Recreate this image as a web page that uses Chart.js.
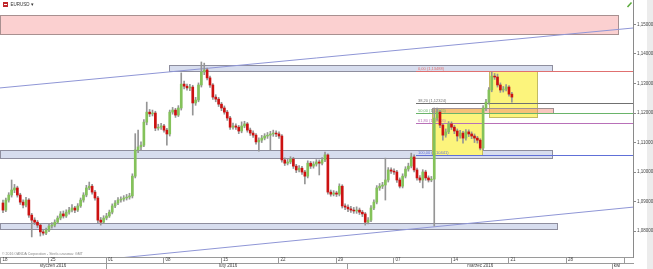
<!DOCTYPE html>
<html>
<head>
<meta charset="utf-8">
<script src="https://cdn.jsdelivr.net/npm/chart.js@4"></script>
<style>
  html, body { margin: 0; padding: 0; background: #fff; }
  #wrap { position: relative; width: 653px; height: 269px; }
</style>
</head>
<body>
<div id="wrap"><canvas id="chart" width="653" height="269"></canvas></div>
<script>
// EURUSD, H6 candles, 18.01 - 21.03.2016 (x = candle number)
const opens = [
  1.0895,1.0871,1.0905,1.0922,1.0939,1.0946,1.0922,1.0898,1.0888,1.0905,
  1.0854,1.0837,1.0830,1.0820,1.0797,1.0793,1.0803,1.0817,1.0820,1.0830,
  1.0844,1.0858,1.0851,1.0864,1.0871,1.0878,1.0871,1.0885,1.0905,1.0922,
  1.0946,1.0952,1.0932,1.0912,1.0837,1.0830,1.0844,1.0851,1.0864,1.0885,
  1.0895,1.0905,1.0908,1.0912,1.0915,1.0919,1.0986,1.1075,1.1085,1.1091,
  1.1169,1.1203,1.1197,1.1200,1.1149,1.1152,1.1156,1.1142,1.1129,1.1203,
  1.1210,1.1193,1.1217,1.1298,1.1291,1.1285,1.1288,1.1234,1.1244,1.1295,
  1.1339,1.1346,1.1319,1.1295,1.1254,1.1247,1.1230,1.1217,1.1203,1.1183,
  1.1152,1.1156,1.1152,1.1139,1.1156,1.1163,1.1142,1.1132,1.1125,1.1102,
  1.1108,1.1115,1.1122,1.1125,1.1129,1.1132,1.1129,1.1122,1.1041,1.1030,
  1.1034,1.1044,1.1020,1.1007,1.1013,1.1000,1.0986,1.1030,1.1020,1.1027,
  1.1034,1.1030,1.1041,1.1058,1.0932,1.0925,1.0929,1.0925,1.0952,1.0885,
  1.0881,1.0875,1.0871,1.0868,1.0871,1.0864,1.0858,1.0830,1.0837,1.0878,
  1.0898,1.0946,1.0952,1.0956,1.0973,1.1007,1.1003,1.1000,1.0973,1.0952,
  1.0986,1.1010,1.1020,1.1051,1.1007,1.0980,1.0973,1.1000,1.0980,1.0973,
  1.0976,1.1183,1.1203,1.1159,1.1125,1.1136,1.1163,1.1152,1.1139,1.1122,
  1.1132,1.1115,1.1136,1.1129,1.1122,1.1115,1.1108,1.1081,1.1217,1.1237,
  1.1278,1.1325,1.1322,1.1295,1.1278,1.1281,1.1288,1.1264
];
const highs = [
  1.0905,1.0912,1.0930,1.0973,1.0958,1.0952,1.0928,1.0906,1.0914,1.0910,
  1.0860,1.0845,1.0836,1.0826,1.0804,1.0810,1.0824,1.0829,1.0838,1.0851,
  1.0866,1.0868,1.0872,1.0880,1.0890,1.0884,1.0893,1.0912,1.0930,1.0955,
  1.0966,1.0958,1.0938,1.0918,1.0846,1.0852,1.0860,1.0871,1.0892,1.0903,
  1.0913,1.0916,1.0920,1.0924,1.0928,1.0994,1.1130,1.1142,1.1102,1.1178,
  1.1237,1.1212,1.1210,1.1206,1.1162,1.1165,1.1162,1.1148,1.1210,1.1219,
  1.1216,1.1225,1.1336,1.1308,1.1298,1.1297,1.1294,1.1253,1.1302,1.1373,
  1.1369,1.1352,1.1325,1.1300,1.1262,1.1253,1.1236,1.1224,1.1209,1.1189,
  1.1166,1.1163,1.1158,1.1170,1.1172,1.1168,1.1149,1.1140,1.1130,1.1116,
  1.1124,1.1130,1.1134,1.1138,1.1142,1.1140,1.1136,1.1127,1.1048,1.1043,
  1.1052,1.1050,1.1026,1.1022,1.1019,1.1006,1.1038,1.1036,1.1035,1.1042,
  1.1041,1.1049,1.1068,1.1062,1.0939,1.0937,1.0935,1.0960,1.0957,1.0892,
  1.0889,1.0884,1.0880,1.0882,1.0878,1.0870,1.0863,1.0846,1.0886,1.0906,
  1.0954,1.0961,1.0965,1.1047,1.1015,1.1014,1.1011,1.1006,1.0980,1.0994,
  1.1018,1.1030,1.1064,1.1058,1.1013,1.0988,1.1008,1.1006,1.0987,1.0985,
  1.1217,1.1217,1.1209,1.1165,1.1146,1.1171,1.1170,1.1158,1.1146,1.1141,
  1.1138,1.1144,1.1143,1.1136,1.1129,1.1121,1.1113,1.1225,1.1246,1.1286,
  1.1339,1.1334,1.1332,1.1302,1.1290,1.1296,1.1293,1.1270
];
const lows = [
  1.0862,1.0866,1.0898,1.0915,1.0930,1.0915,1.0890,1.0878,1.0882,1.0846,
  1.0780,1.0822,1.0812,1.0783,1.0786,1.0788,1.0798,1.0810,1.0814,1.0825,
  1.0838,1.0844,1.0846,1.0857,1.0865,1.0862,1.0866,1.0880,1.0898,1.0916,
  1.0940,1.0925,1.0905,1.0828,1.0820,1.0825,1.0838,1.0846,1.0858,1.0879,
  1.0889,1.0898,1.0901,1.0905,1.0908,1.0912,1.0980,1.1066,1.1074,1.1086,
  1.1160,1.1188,1.1190,1.1140,1.1142,1.1144,1.1135,1.1091,1.1122,1.1196,
  1.1185,1.1188,1.1210,1.1282,1.1277,1.1276,1.1193,1.1226,1.1238,1.1288,
  1.1330,1.1312,1.1287,1.1246,1.1238,1.1222,1.1208,1.1196,1.1175,1.1144,
  1.1145,1.1144,1.1130,1.1133,1.1150,1.1135,1.1124,1.1117,1.1094,1.1071,
  1.1100,1.1109,1.1114,1.1075,1.1121,1.1120,1.1114,1.1033,1.1022,1.1024,
  1.1028,1.1012,1.0998,1.1000,1.0992,1.0960,1.0980,1.1012,1.1013,1.1020,
  1.0990,1.1024,1.1035,1.0925,1.0918,1.0919,1.0917,1.0919,1.0878,1.0872,
  1.0866,1.0863,1.0860,1.0860,1.0856,1.0849,1.0820,1.0824,1.0832,1.0872,
  1.0892,1.0938,1.0944,1.0905,1.0966,1.0995,1.0992,1.0965,1.0946,1.0946,
  1.0980,1.1003,1.1014,1.1000,1.0972,1.0965,1.0946,1.0972,1.0966,1.0967,
  1.0817,1.1175,1.1150,1.1108,1.1118,1.1130,1.1144,1.1130,1.1105,1.1115,
  1.1098,1.1108,1.1120,1.1113,1.1100,1.1098,1.1075,1.1076,1.1208,1.1230,
  1.1272,1.1314,1.1288,1.1270,1.1271,1.1275,1.1257,1.1237
];
const closes = [
  1.0871,1.0905,1.0922,1.0939,1.0946,1.0922,1.0898,1.0888,1.0905,1.0854,
  1.0837,1.0830,1.0820,1.0797,1.0793,1.0803,1.0817,1.0820,1.0830,1.0844,
  1.0858,1.0851,1.0864,1.0871,1.0878,1.0871,1.0885,1.0905,1.0922,1.0946,
  1.0952,1.0932,1.0912,1.0837,1.0830,1.0844,1.0851,1.0864,1.0885,1.0895,
  1.0905,1.0908,1.0912,1.0915,1.0919,1.0986,1.1075,1.1085,1.1091,1.1169,
  1.1203,1.1197,1.1200,1.1149,1.1152,1.1156,1.1142,1.1129,1.1203,1.1210,
  1.1193,1.1217,1.1298,1.1291,1.1285,1.1288,1.1234,1.1244,1.1295,1.1339,
  1.1346,1.1319,1.1295,1.1254,1.1247,1.1230,1.1217,1.1203,1.1183,1.1152,
  1.1156,1.1152,1.1139,1.1156,1.1163,1.1142,1.1132,1.1125,1.1102,1.1108,
  1.1115,1.1122,1.1125,1.1129,1.1132,1.1129,1.1122,1.1041,1.1030,1.1034,
  1.1044,1.1020,1.1007,1.1013,1.1000,1.0986,1.1030,1.1020,1.1027,1.1034,
  1.1030,1.1041,1.1058,1.0932,1.0925,1.0929,1.0925,1.0952,1.0885,1.0881,
  1.0875,1.0871,1.0868,1.0871,1.0864,1.0858,1.0830,1.0837,1.0878,1.0898,
  1.0946,1.0952,1.0956,1.0973,1.1007,1.1003,1.1000,1.0973,1.0952,1.0986,
  1.1010,1.1020,1.1051,1.1007,1.0980,1.0973,1.1000,1.0980,1.0973,1.0976,
  1.1183,1.1203,1.1159,1.1125,1.1136,1.1163,1.1152,1.1139,1.1122,1.1132,
  1.1115,1.1136,1.1129,1.1122,1.1115,1.1108,1.1081,1.1217,1.1237,1.1278,
  1.1325,1.1322,1.1295,1.1278,1.1281,1.1288,1.1264,1.1254
];

// axes
const xMin = -1.04, xMax = 219.13;
const yMin = 1.0712, yMax = 1.1583;
const yTicks = [1.08, 1.09, 1.10, 1.11, 1.12, 1.13, 1.14, 1.15];
const weekTicks = [-0.7, 16, 36, 56, 76, 96, 116, 136, 156, 176, 196, 216];
const weekLabels = ['18', '25', '01', '08', '15', '22', '29', '07', '14', '21', '28', ''];
const monthTicks = [17.4, 36, 78.3, 120, 166, 212, 213.6];
const monthLabels = ['styczeń 2016', '', 'luty 2016', '', 'marzec 2016', '', 'kwi'];
const monthSeparators = [false, true, false, true, false, true, false];

// zones (resistance, upper, middle, lower)
const bandFrom = [-1.1, 57.7, -1.1, -1.1];
const bandTo = [213.9, 191.0, 191.0, 192.7];
const bandTop = [1.1532, 1.1363, 1.1075, 1.0827];
const bandBottom = [1.1468, 1.1342, 1.1047, 1.0807];

// yellow boxes and the small pink zone
const boxFrom = [149.2, 169.0];
const boxTo = [166.6, 185.7];
const boxTop = [1.1217, 1.1342];
const boxBottom = [1.1058, 1.1186];
const pinkFrom = 149.2, pinkTo = 191.3, pinkTop = 1.1217, pinkBottom = 1.1200;

// fibonacci
const fibStart = 143.7;
const fibPrices = [1.1342, 1.1234, 1.1199, 1.1166, 1.1058];
const fibLabels = ['0,00 (1,13488)', '38,20 (1,12324)', '50,00 (1,11965)', '61,80 (1,11605)', '100,00 (1,10441)'];

// trend lines
const upperTrendX = [-1.04, 219.13];
const upperTrendY = [1.1285, 1.1488];
const lowerTrendX = [39.7, 219.13];
const lowerTrendY = [1.0708, 1.0881];

const fibColors = ['#e07070', '#707070', '#6ab46a', '#b870b8', '#6070d8'];
const FONT = '"Liberation Sans", Arial, sans-serif';

const overlays = {
  id: 'overlays',
  beforeDraw(chart) {
    const ctx = chart.ctx;
    ctx.save();
    ctx.fillStyle = '#ececec';
    ctx.fillRect(647, 0, 6, 269);
    ctx.restore();
  },
  beforeDatasetsDraw(chart) {
    const { ctx, chartArea: a } = chart;
    const x = chart.scales.x, y = chart.scales.y;
    ctx.save();
    ctx.beginPath();
    ctx.rect(a.left, a.top, a.right - a.left, a.bottom - a.top);
    ctx.clip();

    const box = (x0, x1, p0, p1, fill, stroke) => {
      const l = Math.round(x.getPixelForValue(x0)) + 0.5;
      const r = Math.round(x.getPixelForValue(x1)) + 0.5;
      const t = Math.round(y.getPixelForValue(p0)) + 0.5;
      const b = Math.round(y.getPixelForValue(p1)) + 0.5;
      ctx.fillStyle = fill;
      ctx.fillRect(l, t, r - l, b - t);
      ctx.strokeStyle = stroke;
      ctx.lineWidth = 1;
      ctx.strokeRect(l, t, r - l, b - t);
    };

    bandFrom.forEach((f, i) => {
      if (i === 0) box(f, bandTo[i], bandTop[i], bandBottom[i], '#fbd0d0', '#a89090');
      else box(f, bandTo[i], bandTop[i], bandBottom[i], '#d7ddee', '#8e8e9e');
    });
    boxFrom.forEach((f, i) => box(f, boxTo[i], boxTop[i], boxBottom[i], '#fcf47c', '#c2bb62'));
    box(pinkFrom, pinkTo, pinkTop, pinkBottom, 'rgba(240,130,115,0.45)', '#a09090');

    // fibonacci lines and labels
    const fx = Math.round(x.getPixelForValue(fibStart));
    ctx.font = '4px ' + FONT;
    ctx.textBaseline = 'bottom';
    fibPrices.forEach((p, i) => {
      const py = Math.round(y.getPixelForValue(p)) + 0.5;
      ctx.strokeStyle = fibColors[i];
      ctx.beginPath();
      ctx.moveTo(fx, py);
      ctx.lineTo(a.right, py);
      ctx.stroke();
      ctx.fillStyle = fibColors[i];
      ctx.fillText(fibLabels[i], fx + 2, py - 0.5);
    });
    ctx.restore();
  },
  afterDraw(chart) {
    const ctx = chart.ctx;
    ctx.save();
    // header
    ctx.fillStyle = '#c0282d';
    ctx.fillRect(3, 2, 5, 5);
    ctx.fillStyle = '#fff';
    ctx.fillRect(4, 4, 3, 1);
    ctx.fillStyle = '#333';
    ctx.font = '4.5px ' + FONT;
    ctx.textBaseline = 'middle';
    ctx.fillText('EURUSD ▾', 10.5, 4.8);
    // green marker top right
    ctx.strokeStyle = '#5aaa3a';
    ctx.lineWidth = 1.5;
    ctx.beginPath();
    ctx.moveTo(627.5, 7);
    ctx.lineTo(631.5, 2.5);
    ctx.stroke();
    // footer note
    ctx.fillStyle = '#888';
    ctx.font = '3.5px ' + FONT;
    ctx.fillText('© 2016 OANDA Corporation - Strefa czasowa: GMT', 2, 254.5);
    ctx.restore();
  }
};

const idx = opens.map((_, i) => i);

new Chart(document.getElementById('chart'), {
  type: 'bar',
  data: {
    datasets: [
      {
        type: 'line',
        data: upperTrendX.map((v, i) => ({ x: v, y: upperTrendY[i] })),
        borderColor: '#8f96d6', borderWidth: 1, pointRadius: 0, order: 4
      },
      {
        type: 'line',
        data: lowerTrendX.map((v, i) => ({ x: v, y: lowerTrendY[i] })),
        borderColor: '#8f96d6', borderWidth: 1, pointRadius: 0, order: 4
      },
      {
        // wicks
        data: idx.map(i => ({ x: i, y: [lows[i], highs[i]] })),
        backgroundColor: '#959595',
        barThickness: 1, grouped: false, order: 2
      },
      {
        // bodies
        data: idx.map(i => ({ x: i, y: [opens[i], closes[i]] })),
        backgroundColor: idx.map(i => closes[i] >= opens[i] ? '#84c25a' : '#cc1111'),
        barThickness: 2, grouped: false, order: 1
      }
    ]
  },
  options: {
    responsive: false,
    animation: false,
    events: [],
    layout: { padding: 0 },
    plugins: { legend: { display: false }, tooltip: { enabled: false } },
    scales: {
      x: {
        type: 'linear', position: 'bottom', weight: 0,
        min: xMin, max: xMax, offset: false,
        afterBuildTicks: s => { s.ticks = weekTicks.map(v => ({ value: v })); },
        afterFit: s => { s.height = 6; s.paddingLeft = 0; s.paddingRight = 0; },
        ticks: {
          autoSkip: false, maxRotation: 0, align: 'start', padding: -6, labelOffset: 1.5,
          color: '#444', font: { size: 4.5, family: FONT },
          callback: (v, i) => weekLabels[i]
        },
        grid: { drawOnChartArea: false, tickLength: 6, color: '#9a9a9a', offset: false },
        border: { display: true, color: '#9a9a9a' }
      },
      x2: {
        type: 'linear', position: 'bottom', weight: 1,
        min: xMin, max: xMax, offset: false,
        afterBuildTicks: s => { s.ticks = monthTicks.map(v => ({ value: v })); },
        afterFit: s => { s.height = 6; s.paddingLeft = 0; s.paddingRight = 0; },
        ticks: {
          autoSkip: false, maxRotation: 0, padding: -6,
          color: '#444', font: { size: 4.5, family: FONT },
          callback: (v, i) => monthLabels[i]
        },
        grid: {
          drawOnChartArea: false, tickLength: 6, offset: false,
          tickColor: c => monthSeparators[c.index] ? '#9a9a9a' : 'rgba(0,0,0,0)'
        },
        border: { display: true, color: '#9a9a9a' }
      },
      y: {
        type: 'linear', position: 'right',
        min: yMin, max: yMax,
        afterBuildTicks: s => { s.ticks = yTicks.map(v => ({ value: v })); },
        afterFit: s => { s.width = 20; s.paddingTop = 0; s.paddingBottom = 0; },
        ticks: {
          padding: 1, color: '#444', font: { size: 4.5, family: FONT },
          callback: v => v.toFixed(5).replace('.', ',')
        },
        grid: { drawOnChartArea: false, tickLength: 3, color: '#8a8a8a' },
        border: { display: true, color: '#8a8a8a' }
      }
    }
  },
  plugins: [overlays]
});
</script>
</body>
</html>
